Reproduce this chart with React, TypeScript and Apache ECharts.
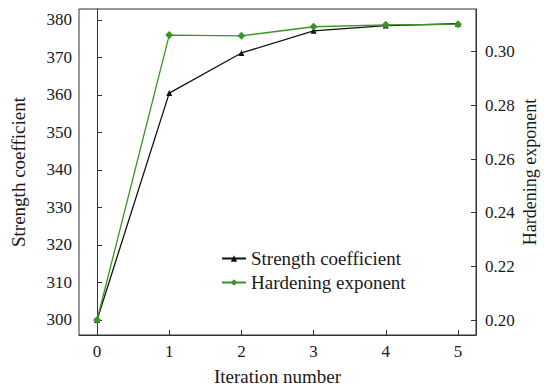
import React, { useEffect, useRef } from "react";
import * as echarts from "echarts";

const iterations = [0, 1, 2, 3, 4, 5];
const strengthCoefficient = [300, 360.5, 371.2, 377.1, 378.5, 379.0];
const hardeningExponent = [0.2, 0.3062, 0.3059, 0.3093, 0.31, 0.3102];
const leftTicks = [300, 310, 320, 330, 340, 350, 360, 370, 380];
const rightTicks = [0.2, 0.22, 0.24, 0.26, 0.28, 0.3];
const xTicks = [0, 1, 2, 3, 4, 5];

const FONT = "Liberation Serif";
const TEXT = "#1a1a1a";
const AXIS = "#333333";
const GREEN = "#3a9426";

export default function App() {
  const ref = useRef<HTMLDivElement>(null);

  useEffect(() => {
    if (!ref.current) return;
    const chart = echarts.init(ref.current, undefined, { renderer: "svg" });

    const labelStyle = { fontFamily: FONT, fontSize: 17, color: TEXT };
    const titleStyle = { fontFamily: FONT, fontSize: 19, color: TEXT };

    const axisCommon = {
      axisLine: { show: true, lineStyle: { color: AXIS, width: 1 } },
      splitLine: { show: false },
      nameTextStyle: titleStyle,
    };
    const tick = { show: true, inside: true, length: 5, lineStyle: { color: AXIS } };

    chart.setOption({
      animation: false,
      backgroundColor: "#ffffff",
      textStyle: { fontFamily: FONT, fontSize: 17 },
      grid: {
        left: 79,
        top: 9,
        right: 68,
        bottom: 56,
        show: true,
        borderColor: AXIS,
        borderWidth: 1,
        outerBoundsMode: "none",
        containLabel: false,
      },
      legend: {
        orient: "vertical",
        left: 216,
        top: 244,
        itemWidth: 24,
        itemHeight: 8,
        itemGap: 5,
        textStyle: titleStyle,
        data: ["Strength coefficient", "Hardening exponent"],
      },
      xAxis: {
        type: "value",
        min: -0.25,
        max: 5.25,
        name: "Iteration number",
        nameLocation: "middle",
        nameGap: 32,
        ...axisCommon,
        axisTick: { ...tick, customValues: xTicks },
        axisLabel: { ...labelStyle, customValues: xTicks, margin: 8 },
      },
      yAxis: [
        {
          type: "value",
          position: "left",
          min: 296,
          max: 382.93,
          name: "Strength coefficient",
          nameLocation: "middle",
          nameGap: 51,
          nameRotate: 90,
          ...axisCommon,
          axisTick: { ...tick, customValues: leftTicks },
          axisLabel: { ...labelStyle, customValues: leftTicks, margin: 7 },
        },
        {
          type: "value",
          position: "right",
          min: 0.19441,
          max: 0.31591,
          name: "Hardening exponent",
          nameLocation: "middle",
          nameGap: 45,
          nameMoveOverlap: false,
          nameRotate: 90,
          ...axisCommon,
          nameTextStyle: { ...titleStyle, fontSize: 18 },
          axisTick: { ...tick, customValues: rightTicks },
          axisLabel: {
            ...labelStyle,
            customValues: rightTicks,
            margin: 9,
            formatter: (v: number) => v.toFixed(2),
          },
        },
      ],
      series: [
        {
          name: "Strength coefficient",
          type: "line",
          yAxisIndex: 0,
          data: iterations.map((x, i) => [x, strengthCoefficient[i]]),
          symbol: "triangle",
          symbolSize: 6,
          lineStyle: { color: "#111111", width: 1.3 },
          itemStyle: { color: "#111111" },
          z: 2,
        },
        {
          name: "Hardening exponent",
          type: "line",
          yAxisIndex: 1,
          data: iterations.map((x, i) => [x, hardeningExponent[i]]),
          symbol: "diamond",
          symbolSize: 8,
          lineStyle: { color: GREEN, width: 1.3 },
          itemStyle: { color: GREEN },
          z: 3,
        },
      ],
    });

    return () => chart.dispose();
  }, []);

  return (
    <div
      ref={ref}
      style={{ position: "fixed", left: 0, top: 0, width: 544, height: 391 }}
    />
  );
}
